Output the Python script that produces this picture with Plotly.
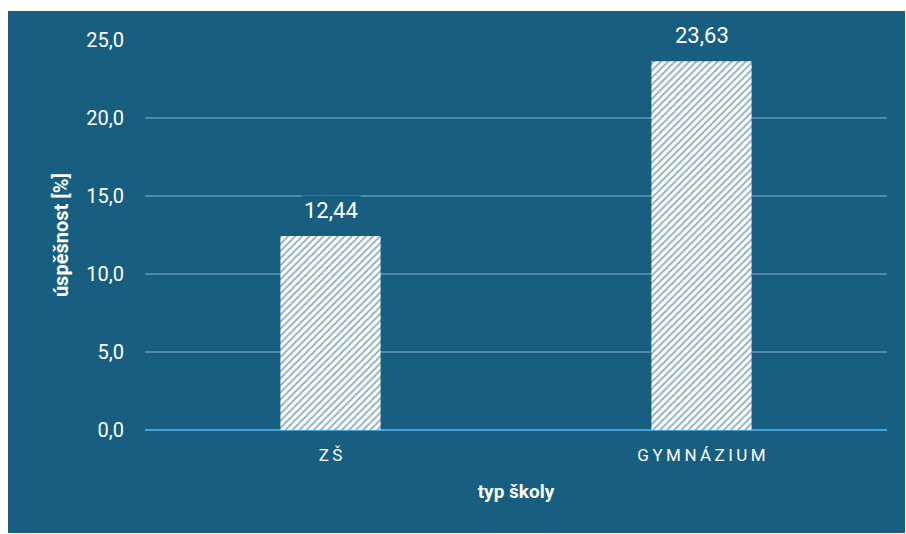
import plotly.graph_objects as go

# Success rate by school type
categories = ["ZŠ", "GYMNÁZIUM"]
success = [12.44, 23.63]
y_ticks = [0, 5, 10, 15, 20, 25]

BG = "#175e81"
GRID = "#5189a7"
AXIS = "#3ea4de"
FONT = "Roboto, 'Open Sans', sans-serif"


def spaced(label):
    # wide letter spacing for category labels
    return "\u2009".join(label)


fig = go.Figure(
    go.Bar(
        x=categories,
        y=success,
        marker=dict(
            color="white",
            line=dict(width=0),
            pattern=dict(
                shape="/",
                fgcolor=BG,
                bgcolor="white",
                size=5,
                solidity=0.35,
                fillmode="overlay",
            ),
        ),
        hoverinfo="skip",
    )
)

# value labels above the bars
for c, v in zip(categories, success):
    fig.add_annotation(
        x=c,
        y=v,
        text=f"{v:.2f}".replace(".", ","),
        showarrow=False,
        yanchor="bottom",
        yshift=10,
        bgcolor=BG,
        borderpad=2,
        font=dict(family=FONT, size=22, color="white"),
    )

fig.update_layout(
    width=906,
    height=534,
    margin=dict(l=145, r=19, t=40, b=104),
    paper_bgcolor="white",
    plot_bgcolor=BG,
    separators=", ",
    bargap=0.73,
    showlegend=False,
    font=dict(family=FONT, color="white"),
    shapes=[
        dict(
            type="rect",
            xref="paper",
            yref="paper",
            x0=(8 - 145) / 742,
            x1=(905 - 145) / 742,
            y0=(430 - 533) / 390,
            y1=(430 - 11) / 390,
            fillcolor=BG,
            line=dict(width=0),
            layer="below",
        )
    ],
    xaxis=dict(
        tickmode="array",
        tickvals=categories,
        ticktext=[spaced(c) for c in categories],
        tickfont=dict(family=FONT, size=17, color="white"),
        showgrid=False,
        showline=False,
        ticks="",
        ticklabelstandoff=13,
        title=dict(
            text="<b>typ školy</b>",
            font=dict(family=FONT, size=19, color="white"),
            standoff=20,
        ),
    ),
    yaxis=dict(
        range=[0, 25],
        tickvals=y_ticks,
        tickformat=".1f",
        tickfont=dict(family=FONT, size=20, color="white"),
        showgrid=True,
        gridcolor=GRID,
        gridwidth=1.5,
        zeroline=True,
        zerolinecolor=AXIS,
        zerolinewidth=1.5,
        ticks="",
        ticklabelstandoff=20,
        title=dict(
            text="<b>úspěšnost [%]</b>",
            font=dict(family=FONT, size=20, color="white"),
            standoff=12,
        ),
    ),
)

fig.write_html("out.html")
